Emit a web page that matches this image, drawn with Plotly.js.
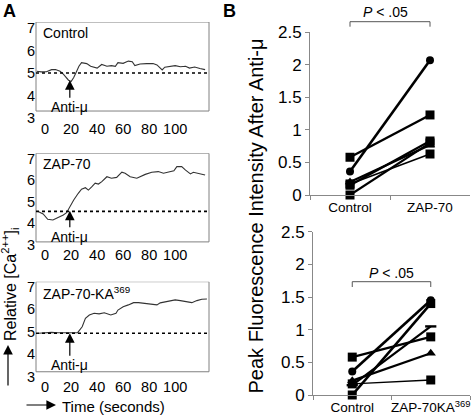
<!DOCTYPE html>
<html><head><meta charset="utf-8">
<script src="https://cdn.plot.ly/plotly-3.0.1.min.js"></script>
<style>html,body{margin:0;padding:0;background:#fff}#chart{width:475px;height:420px}</style>
</head><body><div id="chart"></div>
<script>
// ---------- Panel A data ----------
const timeTicks = [0, 20, 40, 60, 80, 100];
const panelNames = ['Control', 'ZAP-70', 'ZAP-70-KA<sup>369</sup>'];

const controlTime = [-6.5, -3, 1, 5, 8, 11.5, 14, 16, 18, 20, 22, 24, 26, 28, 30, 32, 35, 37, 40, 43.5, 47.5, 51, 54, 56, 60, 64, 67, 69, 73, 78, 83, 86, 90, 92, 96, 100, 104, 108, 111, 115, 119, 123];
const controlCa   = [5.08, 5.05, 5.06, 5.15, 5.16, 5.08, 4.95, 4.8, 4.68, 4.62, 4.8, 5.05, 5.3, 5.46, 5.44, 5.42, 5.3, 5.26, 5.22, 5.38, 5.3, 5.33, 5.3, 5.46, 5.43, 5.53, 5.5, 5.33, 5.4, 5.42, 5.42, 5.36, 5.14, 5.26, 5.3, 5.33, 5.28, 5.3, 5.22, 5.27, 5.2, 5.15];

const zapTime = [-5, -1.5, 2, 6, 10, 14, 16.5, 19, 22, 25.5, 28, 31, 33.3, 36, 38.5, 41, 43.6, 47.5, 51, 55, 59, 61.5, 65.4, 70.5, 73, 77, 82, 87, 91, 95, 99, 101.3, 105, 108, 111.7, 114, 118, 123];
const zapCa   = [4.53, 4.43, 4.18, 4.15, 4.27, 4.38, 4.49, 4.77, 5.08, 5.39, 5.58, 5.65, 5.54, 5.7, 5.86, 5.82, 5.93, 6.16, 6.09, 6.13, 6.37, 6.32, 6.16, 6.09, 6.16, 6.27, 6.37, 6.4, 6.32, 6.37, 6.44, 6.63, 6.63, 6.47, 6.29, 6.37, 6.32, 6.24];

const kaTime = [-5, 0, 5, 10, 15, 20, 25, 28.5, 31, 34, 37.7, 41.5, 45.5, 50.5, 54.5, 56, 60, 64, 68, 71.8, 75.6, 81, 86, 88.5, 92.5, 96, 100, 104, 109, 112.8, 116.7, 120.5, 124.4];
const kaCa   = [4.93, 4.95, 4.97, 4.95, 4.96, 4.97, 4.96, 5.22, 5.59, 5.74, 5.82, 5.79, 5.84, 5.74, 5.82, 5.96, 6.11, 6.19, 6.29, 6.29, 6.26, 6.23, 6.19, 6.28, 6.33, 6.36, 6.41, 6.38, 6.33, 6.29, 6.38, 6.44, 6.45];

const baselines = [5.0, 4.55, 4.93];
const antiMuTime = 19;
const antiMuLevel = [4.68, 4.58, 4.93];

// ---------- Panel B data ----------
const topCategories = ['Control', 'ZAP-70'];
const topControl = [0.36, 0.58, 0.15, 0.20, 0.00, 0.17];
const topZap70   = [2.07, 1.23, 0.83, 0.77, 0.80, 0.63];

const bottomCategories = ['Control', 'ZAP-70KA<sup>369</sup>'];
const bottomControl = [0.36, 0.58, 0.00, 0.15, 0.22, 0.17];
const bottomKA      = [1.45, 0.89, 1.40, 1.05, 0.64, 0.23];

// ---------- styles ----------
const topSymbols = ['circle', 'square', 'square', 'triangle-up', 'square', 'square'];
const topWidths  = [2.6, 2.4, 2.2, 2.2, 2.2, 1.6];
const bottomSymbols = ['circle', 'square', 'square', 'line-ew', 'triangle-up', 'square'];
const bottomWidths  = [2.6, 2.2, 2.6, 2.2, 2.2, 1.4];
const symbolSize = {'circle': 8, 'square': 9, 'triangle-up': 9, 'line-ew': 8};

const W = 475, H = 420;
const px = v => v / W, py = v => 1 - v / H;

const traces = [];
const tSeries = [[controlTime, controlCa], [zapTime, zapCa], [kaTime, kaCa]];
tSeries.forEach((s, i) => {
  const n = i === 0 ? '' : String(i + 1);
  traces.push({x: s[0], y: s[1], type: 'scatter', mode: 'lines', xaxis: 'x' + n, yaxis: 'y' + n,
    line: {color: '#333', width: 1.1}, hoverinfo: 'skip'});
});
function addPairs(cats, a, b, syms, widths, ax) {
  a.forEach((v, i) => {
    const sym = syms[i];
    traces.push({x: cats, y: [v, b[i]], type: 'scatter', mode: 'lines+markers', xaxis: 'x' + ax, yaxis: 'y' + ax,
      cliponaxis: false,
      line: {color: 'black', width: widths[i]},
      marker: {symbol: sym, size: symbolSize[sym], color: 'black',
               line: {color: 'black', width: sym === 'line-ew' ? 2.4 : 0}}});
  });
}
addPairs(topCategories, topControl, topZap70, topSymbols, topWidths, '4');
addPairs(bottomCategories, bottomControl, bottomKA, bottomSymbols, bottomWidths, '5');

// panel A geometry: [yDomainBottomPx, yDomainTopPx, rangeTop, frameBottom]
const aGeom = [[118, 22, 7.27, 3.31], [244.7, 153.3, 7.25, 3.13], [376.7, 281.7, 7.22, 3.22]];
const layout = {
  width: W, height: H, margin: {l: 0, r: 0, t: 0, b: 0}, showlegend: false,
  paper_bgcolor: 'white', plot_bgcolor: 'rgba(0,0,0,0)',
  font: {family: 'Liberation Sans, Arial, sans-serif', color: 'black', size: 14},
  shapes: [], annotations: []
};
const note = o => Object.assign({xref: 'paper', yref: 'paper', xanchor: 'center', yanchor: 'middle', showarrow: false}, o);
aGeom.forEach((g, i) => {
  const n = i === 0 ? '' : String(i + 1);
  layout['xaxis' + n] = {domain: [px(36), px(209)], anchor: 'y' + n, range: [-7, 126],
    tickvals: timeTicks, showline: false, ticks: '', showgrid: false, zeroline: false,
    tickfont: {size: 14.5}, tickangle: 0};
  layout['yaxis' + n] = {domain: [py(g[0]), py(g[1])], anchor: 'x' + n, range: [3, g[2]],
    dtick: 1, tick0: 0, showline: false, ticks: '', showgrid: false, zeroline: false,
    tickfont: {size: 14.5}};
  layout.shapes.push({type: 'rect', xref: 'x' + n + ' domain', yref: 'y' + n, x0: 0, x1: 1, y0: g[3], y1: g[2],
    line: {color: '#808080', width: 1}, fillcolor: 'rgba(0,0,0,0)'});
  layout.shapes.push({type: 'line', xref: 'x' + n + ' domain', yref: 'y' + n, x0: 0, x1: 1,
    y0: baselines[i], y1: baselines[i], line: {color: 'black', width: 1.6, dash: 'dot'}});
  layout.annotations.push({xref: 'x' + n, yref: 'y' + n, x: antiMuTime, y: antiMuLevel[i],
    text: 'Anti-μ', showarrow: true, ax: 0, ay: [27, 26, 32][i], arrowhead: 2, arrowsize: 1.6,
    xanchor: 'center', yanchor: 'middle',
    arrowwidth: 1.2, arrowcolor: 'black', font: {size: 14}});
  layout.annotations.push(note({x: px(41), y: py([33, 164, 293.3][i]),
    xanchor: 'left', text: panelNames[i], font: {size: 14}}));
});
const bAxisX = (dom, anchor, cats) => ({domain: dom, anchor: anchor, type: 'category', categoryarray: cats,
  range: [-0.5, 1.5], tickson: 'boundaries', ticks: 'outside', ticklen: 4, tickcolor: '#888', tickangle: 0,
  showline: true, linecolor: '#888', linewidth: 1, showgrid: false, zeroline: false, tickfont: {size: 13.5}});
const bAxisY = (dom, anchor) => ({domain: dom, anchor: anchor, range: [0, 2.5], dtick: 0.5, tick0: 0,
  ticks: 'outside', ticklen: 4, tickcolor: '#888', showline: true, linecolor: '#888', linewidth: 1,
  showgrid: false, zeroline: false, tickfont: {size: 17}});
layout.xaxis4 = bAxisX([px(310), px(470)], 'y4', topCategories);
layout.yaxis4 = bAxisY([py(195), py(32.3)], 'x4');
layout.xaxis5 = bAxisX([px(313), px(470)], 'y5', bottomCategories);
layout.yaxis5 = bAxisY([py(395), py(231.7)], 'x5');

// brackets
[['x4', 21.7, 26.7], ['x5', 281.7, 287]].forEach(b => {
  layout.shapes.push({type: 'path', xref: b[0], yref: 'paper',
    path: `M0,${py(b[2])} L0,${py(b[1])} L1,${py(b[1])} L1,${py(b[2])}`,
    line: {color: '#555', width: 1}});
});
layout.annotations.push(
  note({x: px(385.3), y: py(11.7), text: '<i>P</i> < .05', font: {size: 14}}),
  note({x: px(391.7), y: py(272.7), text: '<i>P</i> < .05', font: {size: 14}}),
  note({x: px(256), y: py(216.5), text: 'Peak Fluorescence Intensity After Anti-μ', textangle: -90, font: {size: 20}}),
  note({x: px(9.5), y: py(11), text: '<b>A</b>', font: {size: 18}}),
  note({x: px(229), y: py(11), text: '<b>B</b>', font: {size: 18}}),
  note({x: px(10), y: py(285), text: 'Relative [Ca<sup>2++</sup>]<sub>i</sub>', textangle: -90, font: {size: 16}}),
  note({x: px(8), y: py(345), text: '', showarrow: true, ax: 0, ay: 42,
    arrowhead: 2, arrowsize: 1.6, arrowwidth: 1.2, arrowcolor: 'black'}),
  note({x: px(56), y: py(405), text: '', showarrow: true, ax: -31, ay: 0,
    arrowhead: 2, arrowsize: 1.6, arrowwidth: 1.2, arrowcolor: 'black'}),
  note({x: px(113), y: py(406), text: 'Time (seconds)', font: {size: 15}})
);

Plotly.newPlot('chart', traces, layout, {staticPlot: true, displayModeBar: false});
</script>
</body></html>
